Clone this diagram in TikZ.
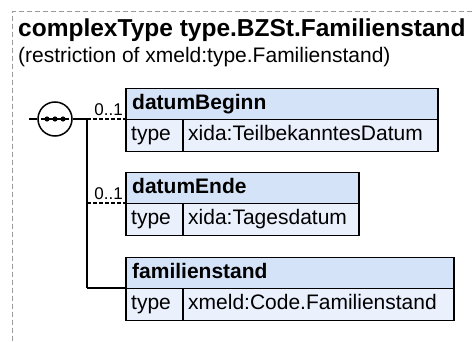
\documentclass[tikz,border=0pt]{standalone}
\usepackage{fontspec}
\setmainfont{Liberation Sans}
\definecolor{hdrblue}{HTML}{D5E3F8}
\definecolor{rowblue}{HTML}{EAF1FD}
\definecolor{frame}{HTML}{9A9A9A}
\begin{document}
\begin{tikzpicture}[x=1pt,y=-1pt,
  boxhdr/.style={draw=black,line width=1.5pt,fill=hdrblue,inner sep=0pt,anchor=north west,minimum height=31pt},
  boxrow/.style={draw=black,line width=1.5pt,fill=rowblue,inner sep=0pt,anchor=north west,minimum height=32pt},
  txt/.style={inner sep=0pt,anchor=base west,font=\fontsize{21}{24}\selectfont},
  btxt/.style={txt,font=\fontsize{21}{24}\selectfont\bfseries},
  occ/.style={inner sep=0pt,anchor=base east,font=\fontsize{17}{20}\selectfont},
  conn/.style={line width=1.3pt},
  optconn/.style={line width=1.1pt,dash pattern=on 4pt off 2pt}]
\useasboundingbox (0,0) rectangle (472,342);
% outer frame
\draw[frame,line width=1pt,dash pattern=on 5pt off 3pt] (480,12) -- (12,12) -- (12,350);
% title
\node[btxt,font=\fontsize{24.5}{28}\selectfont\bfseries] (title) at (18,37) {complexType type.BZSt.Familienstand};
\node[txt] (sub) at (18,63) {(restriction of xmeld:type.Familienstand)};
% boxes
\node[boxhdr,minimum width=312pt] (b1h) at (125,88) {};
\node[boxrow,minimum width=57pt] (b1t) at (125,119) {};
\node[boxrow,minimum width=255pt] (b1v) at (182,119) {};
\node[btxt] (b1n) at (132,110) {datumBeginn};
\node[txt] (b1k) at (131,141) {type};
\node[txt] (b1x) at (188,141) {xida:TeilbekanntesDatum};

\node[boxhdr,minimum width=233pt] (b2h) at (125,172) {};
\node[boxrow,minimum width=57pt] (b2t) at (125,203) {};
\node[boxrow,minimum width=176pt] (b2v) at (182,203) {};
\node[btxt] (b2n) at (132,194) {datumEnde};
\node[txt] (b2k) at (131,225) {type};
\node[txt] (b2x) at (188,225) {xida:Tagesdatum};

\node[boxhdr,minimum width=328pt] (b3h) at (125,257) {};
\node[boxrow,minimum width=57pt] (b3t) at (125,288) {};
\node[boxrow,minimum width=271pt] (b3v) at (182,288) {};
\node[btxt] (b3n) at (132,279) {familienstand};
\node[txt] (b3k) at (131,310) {type};
\node[txt] (b3x) at (188,310) {xmeld:Code.Familienstand};

% sequence compositor
\node[draw=black,line width=1.5pt,fill=white,circle,minimum size=34pt,inner sep=0pt] (seq) at (55,119) {};
\draw[line width=1.5pt] (41,119) -- (69,119);
\foreach \xx in {47,55,63} \fill (\xx,119) circle (2.6pt);
\coordinate (in) at (29,119);
\coordinate (j1) at (87,119);
\coordinate (j2) at (87,203);
\coordinate (j3) at (87,288);
\draw[conn] (in) -- (seq.west);
\draw[conn] (seq.east) -- (j1);
\draw[conn] (j1) -- (j3);
\draw[optconn] (j1) -- (b1t.north west);
\draw[optconn] (j2) -- (b2t.north west);
\draw[conn] (j3) -- (b3t.north west);
\node[occ] (o1) at (123,116) {0..1};
\node[occ] (o2) at (123,200) {0..1};
\end{tikzpicture}
\end{document}
